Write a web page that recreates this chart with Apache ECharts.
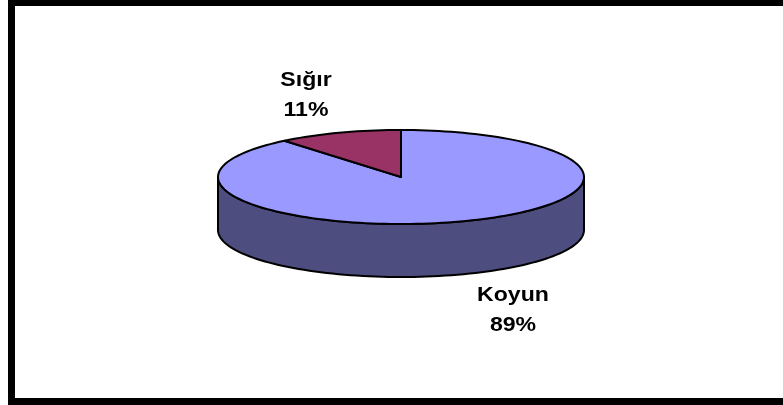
<!DOCTYPE html>
<html><head><meta charset="utf-8">
<script src="https://cdn.jsdelivr.net/npm/echarts@6/dist/echarts.min.js"></script>
<style>html,body{margin:0;padding:0;background:#fff}#c{width:783px;height:405px}</style>
</head><body><div id="c"></div>
<script>
const categories = ['Koyun', 'Sığır'];
const values = [89, 11];

const topColors = ['#9999FF', '#993366'];
const sideColors = ['#4D4D80', '#4D1A33'];
const geo = {cx: 401, cy: 177, rx: 183, ry: 47, depth: 53};
const labelPos = {'Koyun': [513, 310], 'Sığır': [306, 95]};

const total = values.reduce((a, b) => a + b, 0);
function pt(deg, dy) {
  const r = deg * Math.PI / 180;
  return [geo.cx + geo.rx * Math.sin(r), geo.cy - geo.ry * Math.cos(r) + (dy || 0)];
}
function arc(a0, a1, dy) {
  const pts = [];
  const n = Math.max(2, Math.ceil(Math.abs(a1 - a0) / 2));
  for (let i = 0; i <= n; i++) pts.push(pt(a0 + (a1 - a0) * i / n, dy));
  return pts;
}

const chart = echarts.init(document.getElementById('c'));
chart.setOption({
  backgroundColor: '#fff',
  animation: false,
  graphic: [{
    type: 'rect', shape: {x: 11.5, y: 2.5, width: 800, height: 399},
    style: {fill: 'none', stroke: '#000', lineWidth: 7}, silent: true
  }],
  series: [{
    type: 'custom',
    coordinateSystem: 'none',
    data: categories.map((c, i) => ({name: c, value: values[i]})),
    renderItem: function (params, api) {
      const i = params.dataIndex;
      let start = 0;
      for (let j = 0; j < i; j++) start += values[j] / total * 360;
      const v = api.value(0);
      const end = start + v / total * 360;
      const children = [];
      const s0 = Math.max(start, 90), s1 = Math.min(end, 270);
      if (s1 > s0) {
        const top = arc(s0, s1, 0), bot = arc(s1, s0, geo.depth);
        children.push({type: 'polygon', z2: 1, shape: {points: top.concat(bot)},
          style: {fill: sideColors[i], stroke: '#000', lineWidth: 2, lineJoin: 'round'}});
      }
      const sector = [[geo.cx, geo.cy]].concat(arc(start, end, 0));
      children.push({type: 'polygon', z2: 2, shape: {points: sector},
        style: {fill: topColors[i], stroke: '#000', lineWidth: 2, lineJoin: 'round'}});
      const name = categories[i];
      const lp = labelPos[name];
      children.push({type: 'text', z2: 3, x: lp[0], y: lp[1], scaleX: 1.1,
        style: {text: name + '\n' + Math.round(v / total * 100) + '%',
          fontSize: 21, fontWeight: 'bold', fontFamily: '"Liberation Sans", Arial, sans-serif',
          fill: '#000', align: 'center', verticalAlign: 'middle', lineHeight: 30}});
      return {type: 'group', children: children};
    }
  }]
});
</script>
</body></html>
